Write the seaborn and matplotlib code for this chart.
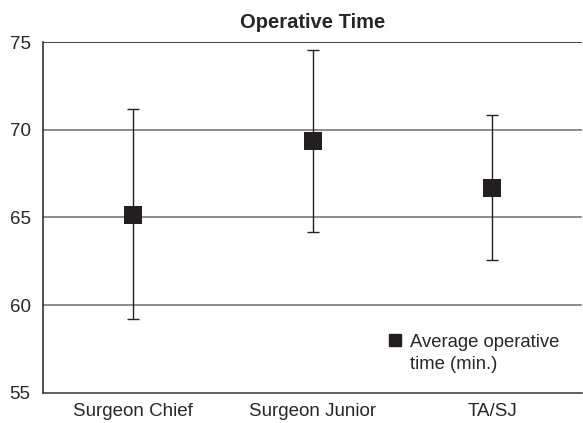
import matplotlib
matplotlib.use('Agg')
import numpy as np
import pandas as pd
import seaborn as sns
from matplotlib import pyplot as plt
from matplotlib.lines import Line2D

groups = ['Surgeon Chief', 'Surgeon Junior', 'TA/SJ']
mean_time = [65.15, 69.35, 66.7]
upper = [71.2, 74.55, 70.85]
lower = [59.2, 64.2, 62.6]

df = pd.DataFrame({'group': groups, 'mean': mean_time, 'upper': upper, 'lower': lower})
df['pos'] = np.arange(len(groups))

sns.set_style('white')
plt.rcParams['font.family'] = ['Liberation Sans', 'DejaVu Sans']

fig = plt.figure(figsize=(5.83, 4.23), dpi=100)
ax = fig.add_axes([0.0738, 0.071, 0.925, 0.8297])

for y in [60, 65, 70]:
    ax.axhline(y, color='#8c8c8c', lw=1.4, zorder=0)
ax.axhline(75, color='#333333', lw=1.3, zorder=0)

ax.errorbar(df['pos'], df['mean'],
            yerr=[df['mean'] - df['lower'], df['upper'] - df['mean']],
            fmt='none', ecolor='#222222', elinewidth=1.0, capsize=4, capthick=1.0, zorder=2)
sns.scatterplot(data=df, x='pos', y='mean', marker='s', s=180, color='#231f20',
                edgecolor='#231f20', linewidth=0, ax=ax, zorder=3, legend=False)

ax.set_xlim(-0.5, 2.5)
ax.set_ylim(55, 75)
ax.set_yticks([55, 60, 65, 70, 75])
ax.set_yticklabels(['55', '60', '65', '70', '75'], fontsize=13.5)
ax.set_xticks([-0.5, 0.5, 1.5, 2.5])
ax.set_xticklabels([])
ax.set_xticks(df['pos'], minor=True)
ax.set_xticklabels(groups, minor=True, fontsize=13.5)
ax.tick_params(axis='x', which='major', direction='out', length=5, width=1, color='#333333')
ax.tick_params(axis='x', which='minor', length=0, pad=7)
ax.tick_params(axis='y', direction='out', length=5, width=1, color='#333333', pad=4)
ax.set_xlabel('')
ax.set_ylabel('')

for side in ['top', 'right']:
    ax.spines[side].set_visible(False)
ax.spines['left'].set_color('#222222')
ax.spines['bottom'].set_color('#333333')
ax.spines['left'].set_linewidth(1.1)
ax.spines['bottom'].set_linewidth(1.1)

ax.set_title('Operative Time', fontsize=14.5, fontweight='bold', pad=10)

# legend: marker sits beside the first line of the two-line label
handles = [Line2D([], [], marker='s', linestyle='none', markersize=9, color='#231f20'),
           Line2D([], [], linestyle='none')]
labels = ['Average operative', 'time (min.)']
leg = ax.legend(handles, labels, loc='lower right', bbox_to_anchor=(0.974, 0.032),
                frameon=False, fontsize=13.3, handletextpad=0.3, handlelength=1.0,
                labelspacing=0.25, borderpad=0)

fig.savefig('out.png', dpi=100)
